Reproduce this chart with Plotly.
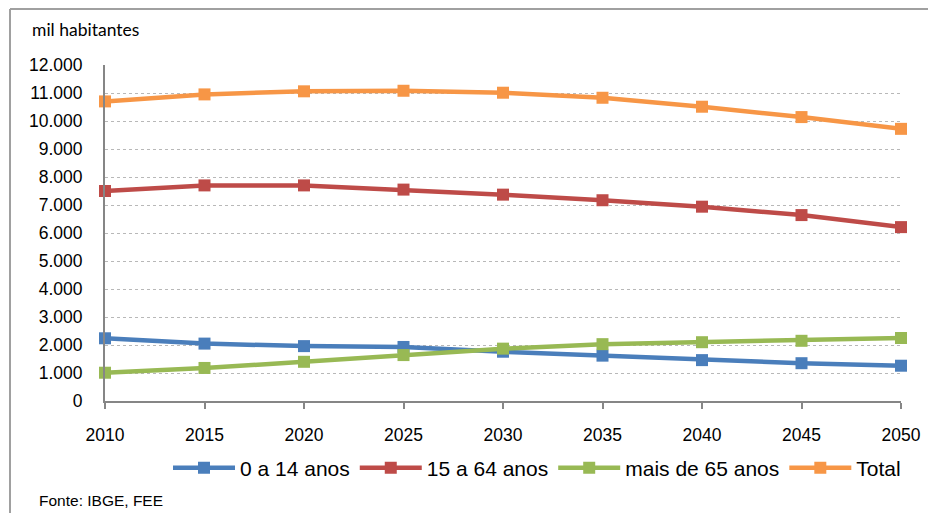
import plotly.graph_objects as go

years = [2010, 2015, 2020, 2025, 2030, 2035, 2040, 2045, 2050]
age_0_14 = [2240, 2050, 1960, 1930, 1760, 1620, 1460, 1350, 1260]
age_15_64 = [7500, 7700, 7700, 7550, 7370, 7170, 6940, 6640, 6210]
age_65_plus = [1010, 1180, 1400, 1640, 1870, 2030, 2100, 2150, 2250]
total = [10700, 10950, 11060, 11080, 11010, 10830, 10510, 10140, 9720]
series_names = ["0 a 14 anos", "15 a 64 anos", "mais de 65 anos", "Total"]
y_ticks = list(range(0, 12001, 1000))

colors = ["#4a7ebb", "#be4b48", "#98b954", "#f79646"]

PAGE_W, PAGE_H = 936, 513
OFF = 8  # default body margin of the page
W, H = PAGE_W - OFF, PAGE_H - OFF
L, R, T, B = 105, 901, 65, 401  # plot area edges in page pixels


def px(x):
    return (x - L) / (R - L)


def py(y):
    return (B - y) / (B - T)


fig = go.Figure()
for name, vals, c in zip(series_names, [age_0_14, age_15_64, age_65_plus, total], colors):
    fig.add_trace(go.Scatter(
        x=years, y=vals, name=name, mode="lines+markers",
        line=dict(color=c, width=4.5),
        marker=dict(symbol="square", size=12, color=c),
        cliponaxis=False,
    ))

axis_col = "#868686"
fig.update_layout(
    width=W, height=H,
    margin=dict(l=L - OFF, r=PAGE_W - R, t=T - OFF, b=PAGE_H - B, pad=0),
    paper_bgcolor="white", plot_bgcolor="white",
    separators=",.",
    font=dict(family="Liberation Sans, Arial, sans-serif", size=17, color="#000000"),
    xaxis=dict(
        range=[2010, 2050], tickvals=years, ticktext=[str(y) for y in years],
        showgrid=False, zeroline=False, showline=True, linecolor=axis_col, linewidth=2,
        ticks="outside", ticklen=6, tickwidth=2, tickcolor=axis_col,
        ticklabelstandoff=11, tickfont=dict(size=17.5),
    ),
    yaxis=dict(
        range=[0, 12000], tickvals=y_ticks, tickformat=",.0f",
        showgrid=True, gridcolor="#b8b8b8", gridwidth=1, griddash="dot",
        zeroline=False, showline=True, linecolor=axis_col, linewidth=2,
        ticks="", ticklabelstandoff=17, tickfont=dict(size=17.5),
    ),
    showlegend=True,
    legend=dict(
        orientation="h", x=px(537), xanchor="center", y=py(468), yanchor="middle",
        font=dict(size=21), bgcolor="rgba(0,0,0,0)", itemwidth=62, tracegroupgap=0,
    ),
    annotations=[
        dict(text="mil habitantes", x=px(30), y=py(30), xref="paper", yref="paper",
             xanchor="left", yanchor="middle", showarrow=False,
             font=dict(family="Lato, Open Sans, sans-serif", size=17.5)),
        dict(text="Fonte: IBGE, FEE", x=px(37), y=py(500), xref="paper", yref="paper",
             xanchor="left", yanchor="middle", showarrow=False,
             font=dict(size=15.5)),
    ],
    shapes=[
        dict(type="line", xref="paper", yref="paper", x0=px(10), x1=px(PAGE_W + 5),
             y0=py(9), y1=py(9), line=dict(color="#a0a0a0", width=2)),
        dict(type="line", xref="paper", yref="paper", x0=px(10), x1=px(10),
             y0=py(9), y1=py(PAGE_H + 5), line=dict(color="#a0a0a0", width=2)),
    ],
)

fig.write_html("out.html")
